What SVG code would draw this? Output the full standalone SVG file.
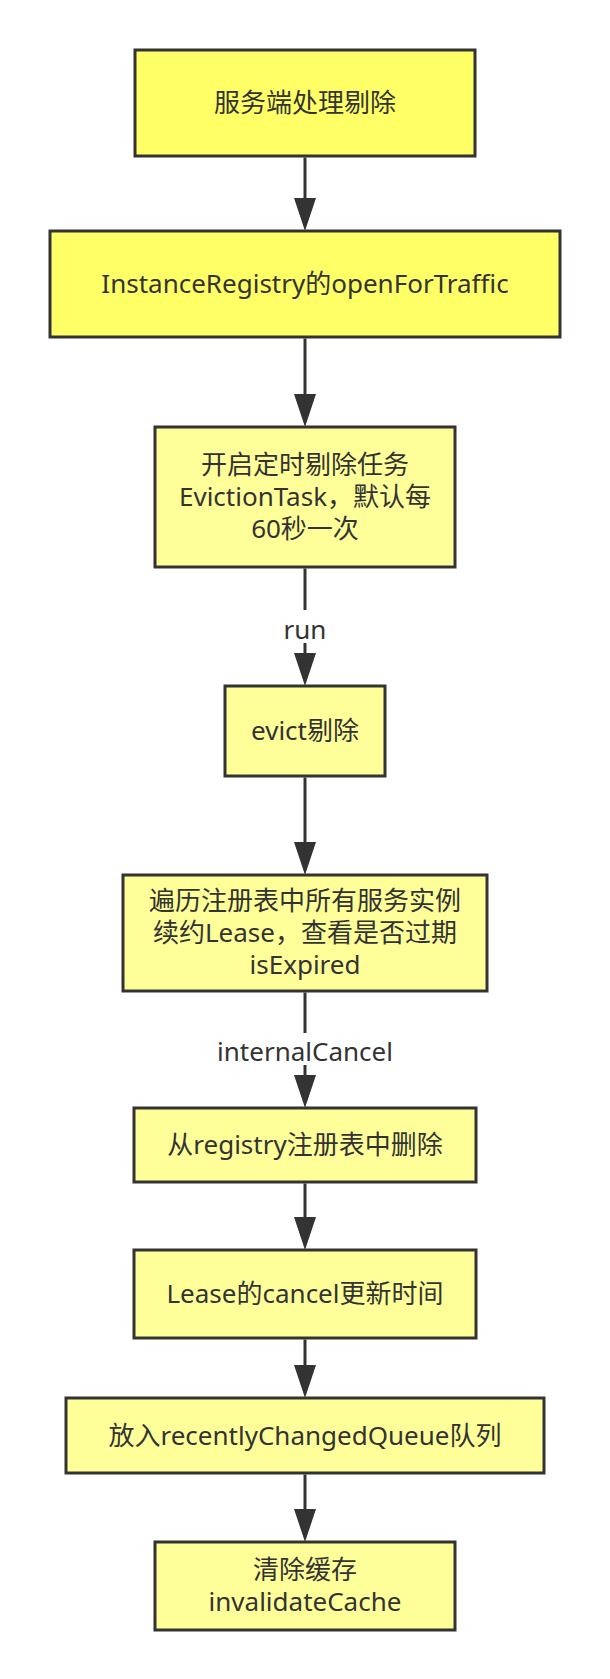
<svg xmlns="http://www.w3.org/2000/svg" width="610" height="1679" viewBox="0 0 610 1679">
<style>
.box{stroke:#333333;stroke-width:3}
.hi{fill:#FFFF66}
.lo{fill:#FFFF99}
.t{font-family:"Noto Sans","Noto Sans CJK SC",sans-serif;font-size:26px;fill:#333333;text-anchor:middle}
.e{fill:none;stroke:#333333;stroke-width:3}
</style>
<defs>
<marker id="arr" viewBox="0 0 33 22" refX="23" refY="11" markerWidth="33" markerHeight="22" markerUnits="userSpaceOnUse" orient="auto">
<path d="M0,0 L33,11 L0,22 Z" fill="#333333"/>
</marker>
</defs>
<rect width="610" height="1679" fill="#ffffff"/>
<g id="connectors">
<path class="e" d="M305,157.5 V221" marker-end="url(#arr)"/>
<path class="e" d="M305,338.5 V417" marker-end="url(#arr)"/>
<path class="e" d="M305,568.5 V610"/>
<path class="e" d="M305,643 V676" marker-end="url(#arr)"/>
<text class="t" x="305" y="639">run</text>
<path class="e" d="M305,777.5 V865" marker-end="url(#arr)"/>
<path class="e" d="M305,992.5 V1033"/>
<path class="e" d="M305,1065 V1098" marker-end="url(#arr)"/>
<text class="t" x="305" y="1061">internalCancel</text>
<path class="e" d="M305,1183.5 V1240" marker-end="url(#arr)"/>
<path class="e" d="M305,1339.5 V1388" marker-end="url(#arr)"/>
<path class="e" d="M305,1474.5 V1532" marker-end="url(#arr)"/>
</g>
<g id="n1"><rect class="box hi" x="135" y="50" width="340" height="106"/><text class="t" x="305" y="112">服务端处理剔除</text></g>
<g id="n2"><rect class="box hi" x="50" y="231" width="510" height="106"/><text class="t" x="305" y="293">InstanceRegistry的openForTraffic</text></g>
<g id="n3"><rect class="box lo" x="155" y="427" width="300" height="140"/><text class="t" x="305" y="474">开启定时剔除任务<tspan x="305" dy="32">EvictionTask，默认每</tspan><tspan x="305" dy="32">60秒一次</tspan></text></g>
<g id="n4"><rect class="box lo" x="225" y="686" width="160" height="90"/><text class="t" x="305" y="740">evict剔除</text></g>
<g id="n5"><rect class="box lo" x="123" y="875" width="364" height="116"/><text class="t" x="305" y="910">遍历注册表中所有服务实例<tspan x="305" dy="32">续约Lease，查看是否过期</tspan><tspan x="305" dy="32">isExpired</tspan></text></g>
<g id="n6"><rect class="box lo" x="134" y="1108" width="342" height="74"/><text class="t" x="305" y="1154">从registry注册表中删除</text></g>
<g id="n7"><rect class="box lo" x="134" y="1250" width="342" height="88"/><text class="t" x="305" y="1303">Lease的cancel更新时间</text></g>
<g id="n8"><rect class="box lo" x="66" y="1398" width="478" height="75"/><text class="t" x="305" y="1445">放入recentlyChangedQueue队列</text></g>
<g id="n9"><rect class="box lo" x="155" y="1542" width="300" height="88"/><text class="t" x="305" y="1579">清除缓存<tspan x="305" dy="32">invalidateCache</tspan></text></g>
</svg>
